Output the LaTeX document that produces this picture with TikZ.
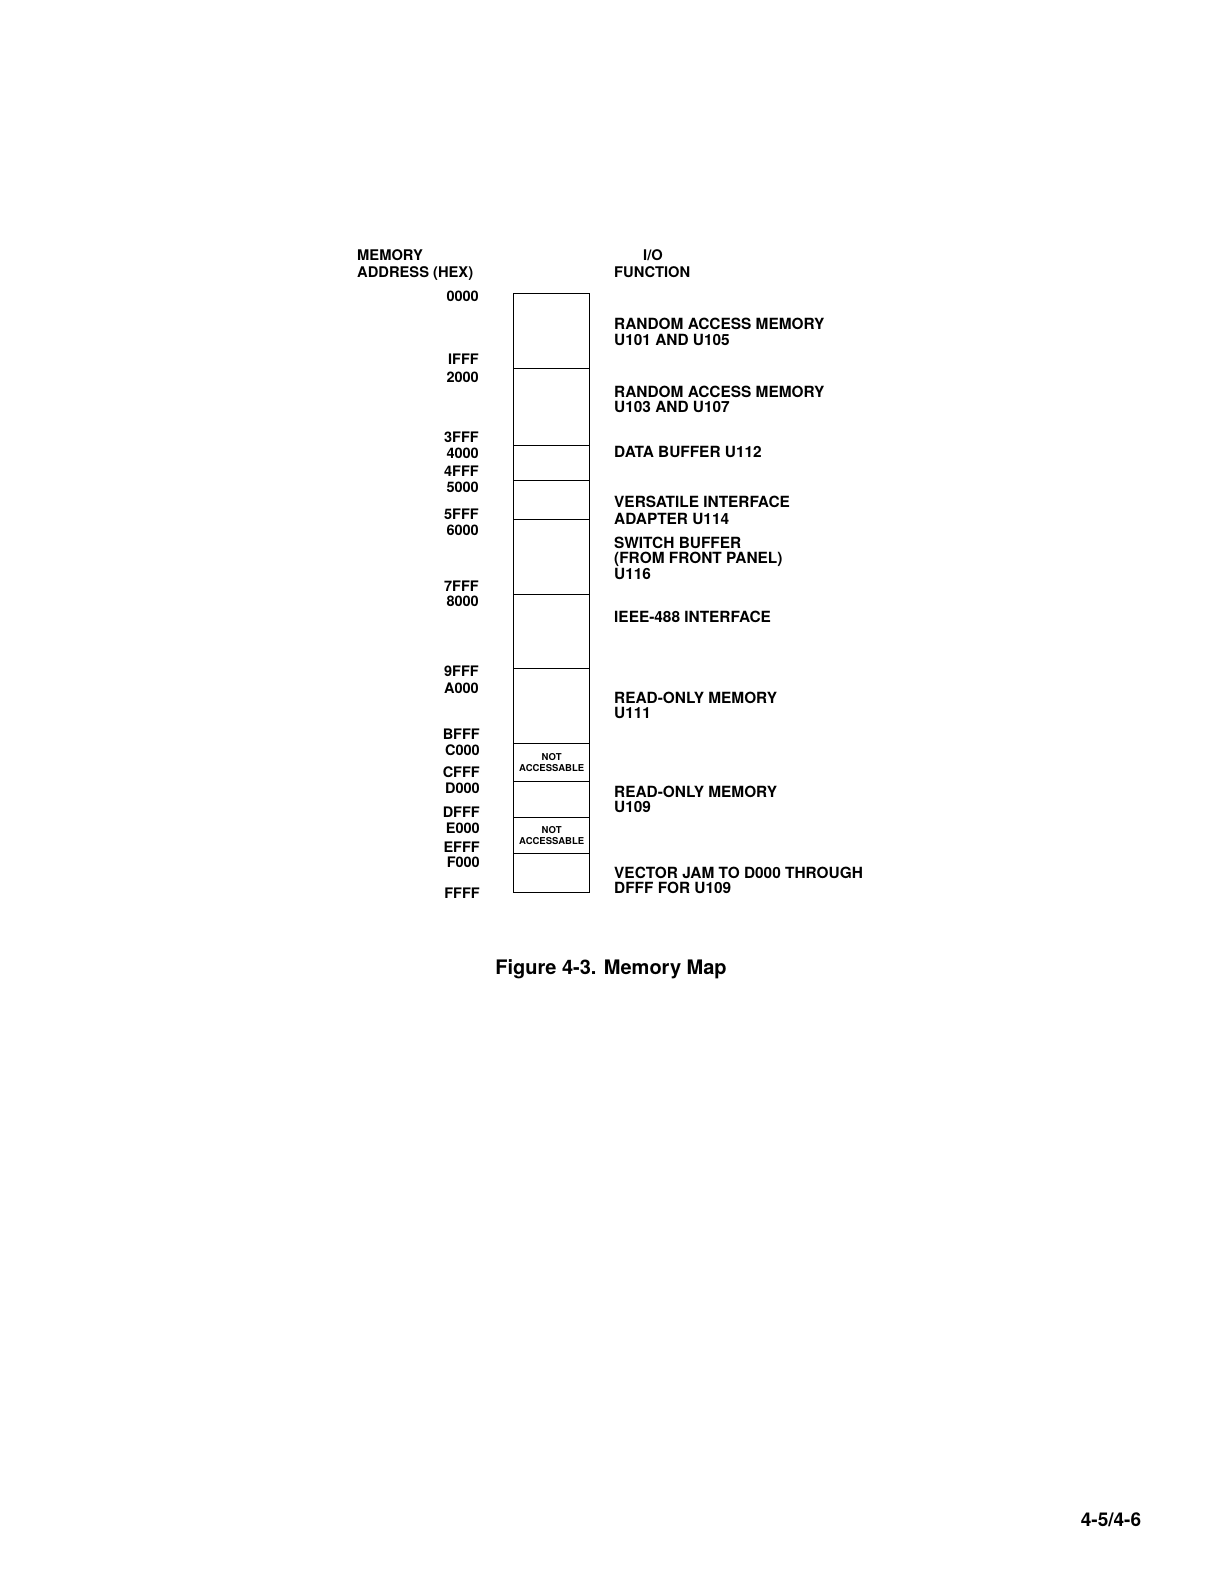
\documentclass[tikz,border=0pt]{standalone}
\usepackage{fontspec}
\setmainfont{TeX Gyre Heros}
\begin{document}
\begin{tikzpicture}[x=1pt,y=-1pt,
  fn/.style={anchor=base west, inner sep=0pt, font=\bfseries\fontsize{15.4}{16}\selectfont},
  ad/.style={anchor=base east, inner sep=0pt, font=\bfseries\fontsize{14.5}{16}\selectfont},
  hd/.style={anchor=base west, inner sep=0pt, font=\bfseries\fontsize{14.7}{16}\selectfont},
  region/.style={draw, line width=1.4pt, minimum width=76pt, inner sep=0pt, anchor=north west,
    align=center, font=\bfseries\fontsize{9.5}{10.5}\selectfont},
]
\useasboundingbox[fill=white] (0,0) rectangle (1224,1584);

% headers
\node[hd] (h1) at (357,260) {MEMORY};
\node[hd] (h2) at (357,277) {ADDRESS (HEX)};
\node[hd, anchor=base] (h3) at (653,260) {I/O};
\node[hd] (h4) at (614,277) {FUNCTION};

% memory regions
\node[region, minimum height=75pt] (r1)  at (513,293) {};
\node[region, minimum height=77pt] (r2)  at (513,368) {};
\node[region, minimum height=35pt] (r3)  at (513,445) {};
\node[region, minimum height=39pt] (r4)  at (513,480) {};
\node[region, minimum height=75pt] (r5)  at (513,519) {};
\node[region, minimum height=74pt] (r6)  at (513,594) {};
\node[region, minimum height=75pt] (r7)  at (513,668) {};
\node[region, minimum height=38pt] (r8)  at (513,743) {NOT\\ACCESSABLE};
\node[region, minimum height=36pt] (r9)  at (513,781) {};
\node[region, minimum height=36pt] (r10) at (513,817) {NOT\\ACCESSABLE};
\node[region, minimum height=39pt] (r11) at (513,853) {};

% addresses
\node[ad] (a0)  at (479,301) {0000};
\node[ad] (a1)  at (479,364) {IFFF};
\node[ad] (a2)  at (479,382) {2000};
\node[ad] (a3)  at (479,442) {3FFF};
\node[ad] (a4)  at (479,458) {4000};
\node[ad] (a5)  at (479,476) {4FFF};
\node[ad] (a6)  at (479,492) {5000};
\node[ad] (a7)  at (479,519) {5FFF};
\node[ad] (a8)  at (479,535) {6000};
\node[ad] (a9)  at (479,591) {7FFF};
\node[ad] (a10) at (479,606) {8000};
\node[ad] (a11) at (479,676) {9FFF};
\node[ad] (a12) at (479,693) {A000};
\node[ad] (a13) at (480,739) {BFFF};
\node[ad] (a14) at (480,755) {C000};
\node[ad] (a15) at (480,777) {CFFF};
\node[ad] (a16) at (480,793) {D000};
\node[ad] (a17) at (480,817) {DFFF};
\node[ad] (a18) at (480,833) {E000};
\node[ad] (a19) at (480,852) {EFFF};
\node[ad] (a20) at (480,867) {F000};
\node[ad] (a21) at (480,898) {FFFF};

% functions
\node[fn] (f1a) at (614,329.4) {RANDOM ACCESS MEMORY};
\node[fn] (f1b) at (614,345.4) {U101 AND U105};
\node[fn] (f2a) at (614,397.4) {RANDOM ACCESS MEMORY};
\node[fn] (f2b) at (614,412.4) {U103 AND U107};
\node[fn] (f3)  at (614,457.4) {DATA BUFFER U112};
\node[fn] (f4a) at (614,507.4) {VERSATILE INTERFACE};
\node[fn] (f4b) at (614,524.4) {ADAPTER U114};
\node[fn] (f5a) at (614,548.4) {SWITCH BUFFER};
\node[fn] (f5b) at (614,563.4) {(FROM FRONT PANEL)};
\node[fn] (f5c) at (614,579.4) {U116};
\node[fn] (f6)  at (614,622.4) {IEEE-488 INTERFACE};
\node[fn] (f7a) at (614,703.4) {READ-ONLY MEMORY};
\node[fn] (f7b) at (614,718.4) {U111};
\node[fn] (f8a) at (614,797.4) {READ-ONLY MEMORY};
\node[fn] (f8b) at (614,812.4) {U109};
\node[fn] (f9a) at (614,878.4) {VECTOR JAM TO D000 THROUGH};
\node[fn] (f9b) at (614,893.4) {DFFF FOR U109};

% caption and page number
\node[anchor=base, inner sep=0pt, font=\bfseries\fontsize{20}{22}\selectfont] (cap) at (611,974) {Figure 4-3. Memory Map};
\node[anchor=base, inner sep=0pt, font=\bfseries\fontsize{19}{21}\selectfont] (pg) at (1111,1526) {4-5/4-6};
\end{tikzpicture}
\end{document}
